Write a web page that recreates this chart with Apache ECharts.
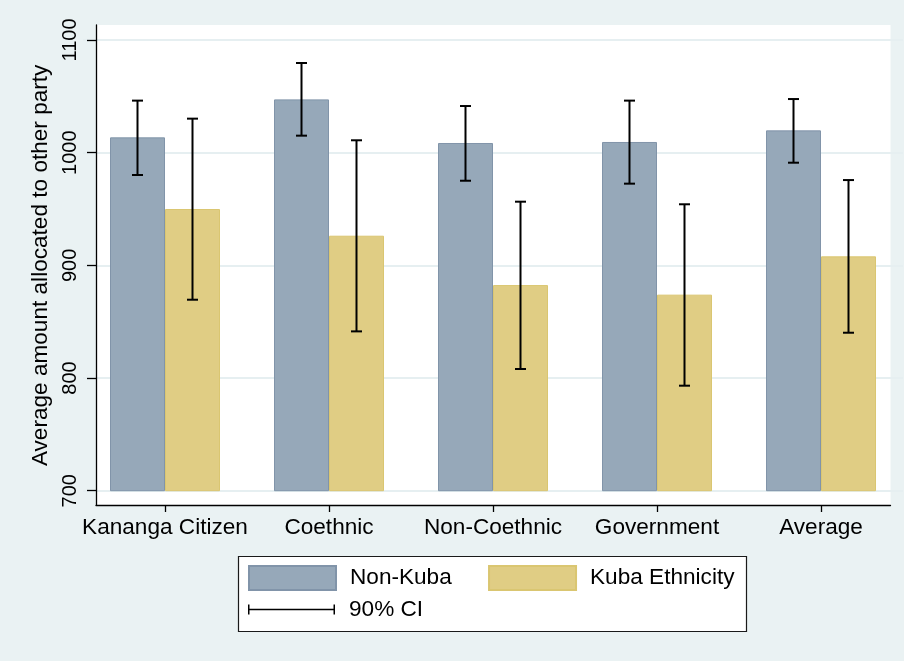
<!DOCTYPE html>
<html>
<head>
<meta charset="utf-8">
<script src="https://cdn.jsdelivr.net/npm/echarts@6/dist/echarts.min.js"></script>
<style>
html,body{margin:0;padding:0;background:#EAF2F3;}
#chart{width:904px;height:661px;}
</style>
</head>
<body>
<div id="chart"></div>
<script>
const categories = ['Kananga Citizen', 'Coethnic', 'Non-Coethnic', 'Government', 'Average'];
const nonKuba     = [1013.6, 1047.3, 1008.6, 1009.5, 1019.8];
const nonKubaLow  = [980.2, 1015.1, 975.1, 972.5, 991.1];
const nonKubaHigh = [1046.2, 1079.6, 1041.4, 1046.2, 1047.6];
const kuba        = [950.0, 926.3, 882.5, 874.0, 908.0];
const kubaLow     = [869.5, 841.4, 808.0, 793.2, 840.2];
const kubaHigh    = [1030.2, 1011.0, 956.5, 954.2, 975.7];
const yTicks = [700, 800, 900, 1000, 1100];

const BAR_W = 55;
const FONT = 'Liberation Sans, Arial, sans-serif';

function ciSeries(low, high, side) {
  return {
    type: 'custom',
    name: '90% CI',
    xAxisIndex: 1,
    yAxisIndex: 1,
    z: 5,
    itemStyle: { color: '#000' },
    data: categories.map((c, i) => [i, low[i], high[i]]),
    renderItem: function (params, api) {
      const lo = api.coord([api.value(0), api.value(1)]);
      const hi = api.coord([api.value(0), api.value(2)]);
      const x = lo[0] + side * BAR_W / 2;
      const cap = 5.5;
      const st = { stroke: '#000', lineWidth: 2 };
      return {
        type: 'group',
        children: [
          { type: 'line', shape: { x1: x, y1: lo[1], x2: x, y2: hi[1] }, style: st },
          { type: 'line', shape: { x1: x - cap, y1: lo[1], x2: x + cap, y2: lo[1] }, style: st },
          { type: 'line', shape: { x1: x - cap, y1: hi[1], x2: x + cap, y2: hi[1] }, style: st }
        ]
      };
    }
  };
}

const chart = echarts.init(document.getElementById('chart'), null, { renderer: 'canvas' });
chart.setOption({
  backgroundColor: '#EAF2F3',
  animation: false,
  textStyle: { fontFamily: FONT },
  graphic: [{
    type: 'rect',
    z: 1,
    shape: { x: 238.5, y: 556.5, width: 508, height: 75 },
    style: { fill: '#fff', stroke: '#1a1a1a', lineWidth: 1.2 }
  }],
  grid: [
    { left: 96, right: 13.5, top: 25, bottom: 156, show: true, backgroundColor: '#fff', borderWidth: 0 },
    { left: 83, width: 820, top: 40, bottom: 170.3 }
  ],
  xAxis: [
    { gridIndex: 0, type: 'value', min: 0, max: 1,
      axisLine: { show: true, lineStyle: { color: '#000', width: 1.3 } },
      axisTick: { show: false }, axisLabel: { show: false }, splitLine: { show: false } },
    { gridIndex: 1, type: 'category', data: categories, offset: 14.3,
      axisLine: { show: false },
      axisTick: { show: true, alignWithLabel: true, interval: 0, length: 7, lineStyle: { color: '#000', width: 1.3 } },
      axisLabel: { interval: 0, fontSize: 22.6, color: '#000', margin: 11, fontFamily: FONT },
      splitLine: { show: false } }
  ],
  yAxis: [
    { gridIndex: 0, type: 'value', min: 0, max: 1,
      axisLine: { show: true, lineStyle: { color: '#000', width: 1.3 } },
      axisTick: { show: false }, axisLabel: { show: false }, splitLine: { show: false } },
    { gridIndex: 1, type: 'value', min: yTicks[0], max: yTicks[yTicks.length - 1], interval: 100,
      offset: -13,
      name: 'Average amount allocated to other party',
      nameLocation: 'middle', nameRotate: 90, nameGap: 38,
      nameTextStyle: { fontSize: 22.6, color: '#000', fontFamily: FONT },
      axisLine: { show: false },
      axisTick: { show: true, length: 9, lineStyle: { color: '#000', width: 1.3 } },
      axisLabel: { rotate: 90, fontSize: 20, color: '#000', margin: 16, fontFamily: FONT,
        formatter: function (v) { return String(v); } },
      splitLine: { show: true, lineStyle: { color: '#E6EFF1', width: 2 } } }
  ],
  legend: [
    { data: ['Non-Kuba', 'Kuba Ethnicity'], left: 248, top: 565, padding: 0,
      itemWidth: 87, itemHeight: 24, itemGap: 36.3, z: 10,
      icon: 'rect',
      textStyle: { fontSize: 22.6, color: '#000', fontFamily: FONT, padding: [0, 0, 0, 9] } },
    { data: [{ name: '90% CI', icon: 'path://M0,0h1.5v10h-1.5z M0,4.25h87v1.5h-87z M85.5,0h1.5v10h-1.5z' }],
      left: 248, top: 598, padding: 0, itemWidth: 87, itemHeight: 10, z: 10,
      itemStyle: { color: '#000', borderWidth: 0 },
      textStyle: { fontSize: 22.6, color: '#000', fontFamily: FONT, padding: [0, 0, 0, 9] } }
  ],
  series: [
    { type: 'bar', name: 'Non-Kuba', xAxisIndex: 1, yAxisIndex: 1, data: nonKuba,
      barWidth: BAR_W, barGap: '0%',
      itemStyle: { color: '#96A8B9', borderColor: '#8194A9', borderWidth: 1 } },
    { type: 'bar', name: 'Kuba Ethnicity', xAxisIndex: 1, yAxisIndex: 1, data: kuba,
      barWidth: BAR_W, barGap: '0%',
      itemStyle: { color: '#E0CD84', borderColor: '#DAC671', borderWidth: 1 } },
    ciSeries(nonKubaLow, nonKubaHigh, -1),
    ciSeries(kubaLow, kubaHigh, 1)
  ]
});
</script>
</body>
</html>
